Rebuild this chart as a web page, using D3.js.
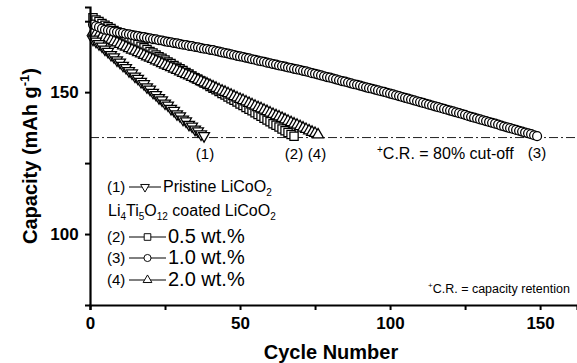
<!DOCTYPE html>
<html>
<head>
<meta charset="utf-8">
<script src="https://cdn.jsdelivr.net/npm/d3@7"></script>
<style>
  body { margin: 0; background: #fff; }
  svg { display: block; font-family: "Liberation Sans", Arial, sans-serif; }
  .tick text { font-weight: bold; font-size: 17px; fill: #000; }
</style>
</head>
<body>
<svg width="577" height="363"></svg>
<script>
// capacity (mAh/g) per cycle, starting at cycle 1
var firstCycle = 1;
var pristine = [168.6, 167.9, 167.0, 166.2, 165.1, 164.3, 163.2, 162.4, 161.3, 160.5,
  159.4, 158.6, 157.5, 156.7, 155.6, 154.8, 153.7, 152.9, 151.8, 151.0,
  149.9, 149.1, 148.0, 147.2, 146.1, 145.4, 144.2, 143.5, 142.3, 141.6,
  140.4, 139.8, 138.6, 138.0, 136.9, 136.3, 135.2, 134.6];
var coat05 = [176.2, 175.4, 174.9, 174.2, 173.6, 173.0, 172.4, 171.7, 171.2, 170.5,
  169.9, 169.3, 168.7, 168.0, 167.5, 166.8, 166.2, 165.6, 165.0, 164.3,
  163.8, 163.1, 162.5, 161.9, 161.3, 160.6, 160.1, 159.4, 158.8, 158.2,
  157.6, 156.9, 156.4, 155.7, 155.1, 154.5, 153.9, 153.2, 152.7, 152.0,
  151.4, 150.8, 150.2, 149.5, 149.0, 148.3, 147.7, 147.1, 146.5, 145.8,
  145.3, 144.6, 144.0, 143.4, 142.7, 142.1, 141.5, 140.8, 140.2, 139.6,
  138.9, 138.3, 137.7, 137.0, 136.4, 135.8, 135.1, 134.5];
var coat10 = [173.8, 173.3, 172.9, 172.4, 172.0, 171.8, 171.6, 171.3, 171.2, 170.9,
  170.8, 170.5, 170.4, 170.1, 169.9, 169.8, 169.5, 169.4, 169.1, 169.0,
  168.7, 168.6, 168.3, 168.2, 167.9, 167.7, 167.6, 167.3, 167.2, 166.9,
  166.7, 166.6, 166.3, 166.2, 165.9, 165.8, 165.5, 165.3, 165.2, 164.9,
  164.8, 164.5, 164.3, 164.0, 163.8, 163.6, 163.3, 163.1, 162.8, 162.6,
  162.4, 162.1, 161.9, 161.6, 161.4, 161.1, 160.9, 160.7, 160.4, 160.2,
  159.9, 159.7, 159.4, 159.2, 159.0, 158.7, 158.5, 158.2, 158.0, 157.8,
  157.5, 157.3, 157.0, 156.7, 156.5, 156.2, 155.9, 155.6, 155.3, 155.1,
  154.8, 154.5, 154.2, 153.9, 153.7, 153.4, 153.1, 152.8, 152.6, 152.3,
  152.0, 151.7, 151.4, 151.2, 150.9, 150.6, 150.3, 150.1, 149.8, 149.5,
  149.2, 148.9, 148.6, 148.3, 148.0, 147.7, 147.4, 147.1, 146.8, 146.5,
  146.2, 145.9, 145.6, 145.3, 145.0, 144.7, 144.4, 144.1, 143.8, 143.5,
  143.2, 142.9, 142.6, 142.3, 142.0, 141.6, 141.3, 141.0, 140.7, 140.4,
  140.1, 139.8, 139.5, 139.2, 138.9, 138.6, 138.2, 137.9, 137.6, 137.3,
  137.0, 136.7, 136.4, 136.1, 135.8, 135.5, 135.2, 134.8, 134.5];
var coat20 = [171.2, 170.7, 170.3, 169.8, 169.3, 168.8, 168.3, 167.8, 167.4, 166.9,
  166.4, 165.9, 165.4, 164.9, 164.5, 164.0, 163.5, 163.0, 162.5, 162.0,
  161.6, 161.1, 160.6, 160.1, 159.6, 159.1, 158.7, 158.2, 157.7, 157.2,
  156.7, 156.2, 155.8, 155.3, 154.8, 154.3, 153.8, 153.3, 152.9, 152.4,
  151.9, 151.4, 150.9, 150.4, 150.0, 149.5, 149.0, 148.5, 148.0, 147.5,
  147.1, 146.6, 146.1, 145.6, 145.1, 144.6, 144.2, 143.7, 143.2, 142.7,
  142.2, 141.7, 141.3, 140.8, 140.3, 139.8, 139.3, 138.8, 138.4, 137.9,
  137.4, 136.9, 136.4, 135.9, 135.5, 135.0];
var cutoff = 134;
var xMajor = [0, 50, 100, 150];
var xMinor = [25, 75, 125];
var yMajor = [100, 150];
var yMinor = [125, 175];

var svg = d3.select("svg");
var x = d3.scaleLinear().domain([0, 162.3]).range([90, 577]);
var y = d3.scaleLinear().domain([75, 180]).range([305, 7]);

var triUp = d3.symbol().type(d3.symbolTriangle).size(52)();
var square = d3.symbol().type(d3.symbolSquare).size(68)();
var circle = d3.symbol().type(d3.symbolCircle).size(62)();

function drawSeries(values, path, rot) {
  svg.append("g").selectAll("path")
    .data(values)
    .enter()
    .append("path")
    .attr("d", path)
    .attr("transform", function (d, i) {
      return "translate(" + x(i + firstCycle) + "," + y(d) + ")" + (rot ? " rotate(180)" : "");
    })
    .attr("fill", "#fff")
    .attr("stroke", "#000")
    .attr("stroke-width", 1.25);
}

// cut-off line
svg.append("line")
  .attr("x1", x(0)).attr("x2", 577)
  .attr("y1", y(cutoff)).attr("y2", y(cutoff))
  .attr("stroke", "#222").attr("stroke-width", 1)
  .attr("stroke-dasharray", "9,3,2,3");

drawSeries(coat05, square, false);
drawSeries(coat20, triUp, false);
drawSeries(pristine, triUp, true);
drawSeries(coat10, circle, false);

// axes
var xAxis = d3.axisBottom(x).tickValues(xMajor.concat(xMinor)).tickSizeOuter(0).tickSize(5)
  .tickFormat(function (d) { return xMajor.indexOf(d) >= 0 ? d : ""; });
var gx = svg.append("g").attr("transform", "translate(0," + y(75) + ")").call(xAxis);
gx.select(".domain").attr("stroke-width", 2.2);
gx.selectAll(".tick line").attr("stroke-width", 2);
gx.selectAll(".tick text").attr("dy", "0.95em");

var yAxis = d3.axisLeft(y).tickValues(yMajor.concat(yMinor)).tickSizeOuter(0).tickSize(5)
  .tickFormat(function (d) { return yMajor.indexOf(d) >= 0 ? d : ""; });
var gy = svg.append("g").attr("transform", "translate(" + x(0) + ",0)").call(yAxis);
gy.select(".domain").attr("stroke-width", 2.2);
gy.selectAll(".tick line").attr("stroke-width", 2);
gy.selectAll(".tick text").attr("dx", "-0.2em");

// axis titles
svg.append("text")
  .attr("x", 331).attr("y", 359)
  .attr("text-anchor", "middle")
  .attr("font-weight", "bold").attr("font-size", 20)
  .text("Cycle Number");

var yt = svg.append("text")
  .attr("transform", "translate(37,156) rotate(-90)")
  .attr("text-anchor", "middle")
  .attr("font-weight", "bold").attr("font-size", 20);
yt.append("tspan").text("Capacity (mAh g");
yt.append("tspan").attr("dy", -8).attr("font-size", 13).text("-1");
yt.append("tspan").attr("dy", 8).text(")");

// curve labels
function label(t, cx, cy, size) {
  svg.append("text").attr("x", cx).attr("y", cy).attr("text-anchor", "middle")
    .attr("font-size", size || 15).text(t);
}
label("(1)", 205, 159);
label("(2)", 294, 159);
label("(4)", 317, 159);
label("(3)", 537, 158);

var cr = svg.append("text").attr("x", 377).attr("y", 159).attr("font-size", 16);
cr.append("tspan").attr("font-size", 10).attr("dy", -6).text("+");
cr.append("tspan").attr("dy", 6).text("C.R. = 80% cut-off");

var cr2 = svg.append("text").attr("x", 428).attr("y", 293).attr("font-size", 12.5);
cr2.append("tspan").attr("font-size", 8).attr("dy", -5).text("+");
cr2.append("tspan").attr("dy", 5).text("C.R. = capacity retention");

// legend
var legRows = [
  { num: "(1)", y: 192, path: triUp, rot: true, text: "Pristine LiCoO", sub: "2", big: false },
  { num: "(2)", y: 242, path: square, rot: false, text: "0.5 wt.%", big: true },
  { num: "(3)", y: 263, path: circle, rot: false, text: "1.0 wt.%", big: true },
  { num: "(4)", y: 285, path: triUp, rot: false, text: "2.0 wt.%", big: true }
];
var leg = svg.append("g");
legRows.forEach(function (r) {
  leg.append("text").attr("x", 107).attr("y", r.y).attr("font-size", 15).text(r.num);
  var x1 = 129, x2 = r.big ? 166 : 161;
  leg.append("line").attr("x1", x1).attr("x2", x2).attr("y1", r.y - 5).attr("y2", r.y - 5)
    .attr("stroke", "#000").attr("stroke-width", 1);
  leg.append("path").attr("d", r.path)
    .attr("transform", "translate(" + ((x1 + x2) / 2) + "," + (r.y - 5) + ") scale(0.8)" + (r.rot ? " rotate(180)" : ""))
    .attr("fill", "#fff").attr("stroke", "#000").attr("stroke-width", 1.2);
  var t = leg.append("text").attr("x", x2 + 2).attr("y", r.y + (r.big ? 1 : 0)).attr("font-size", r.big ? 20 : 16);
  t.append("tspan").text(r.text);
  if (r.sub) t.append("tspan").attr("font-size", 10).attr("dy", 4).text(r.sub);
});
var lt = leg.append("text").attr("x", 108).attr("y", 216).attr("font-size", 16);
lt.append("tspan").text("Li");
lt.append("tspan").attr("font-size", 10).attr("dy", 4).text("4");
lt.append("tspan").attr("dy", -4).text("Ti");
lt.append("tspan").attr("font-size", 10).attr("dy", 4).text("5");
lt.append("tspan").attr("dy", -4).text("O");
lt.append("tspan").attr("font-size", 10).attr("dy", 4).text("12");
lt.append("tspan").attr("dy", -4).text(" coated LiCoO");
lt.append("tspan").attr("font-size", 10).attr("dy", 4).text("2");
</script>
</body>
</html>
